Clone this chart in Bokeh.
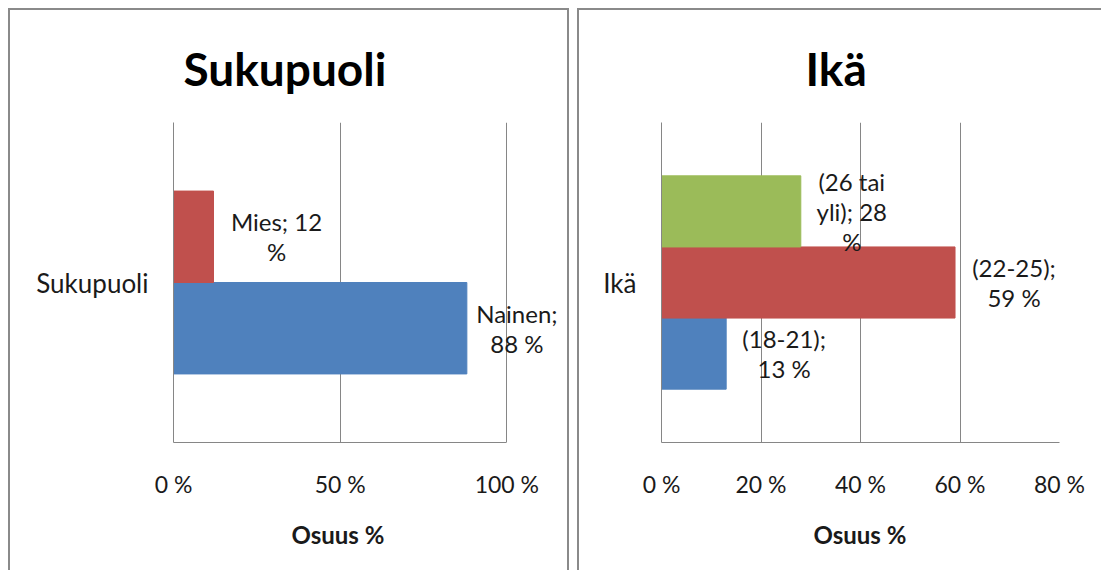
from bokeh.plotting import figure
from bokeh.models import FixedTicker, ColumnDataSource, FactorRange, Title
from bokeh.transform import dodge
from bokeh.layouts import row
from bokeh.embed import file_html
from bokeh.resources import INLINE
from bokeh.core.properties import value

# ---------------- data ----------------
gender_title = "Sukupuoli"
gender_category = ["Sukupuoli"]
gender_series = ["Nainen", "Mies"]
gender_values = [88, 12]
gender_labels = ["Nainen;\n88 %", "Mies; 12\n%"]
gender_ticks = [0, 50, 100]
gender_tick_labels = ["0 %", "50 %", "100 %"]

age_title = "Ikä"
age_category = ["Ikä"]
age_series = ["(18-21)", "(22-25)", "(26 tai yli)"]
age_values = [13, 59, 28]
age_labels = ["(18-21);\n13 %", "(22-25);\n59 %", "(26 tai\nyli); 28\n%"]
age_ticks = [0, 20, 40, 60, 80]
age_tick_labels = ["0 %", "20 %", "40 %", "60 %", "80 %"]

x_title = "Osuus %"

# ---------------- style ----------------
COLORS = ["#4F81BD", "#C0504D", "#9BBB59"]
GRID = "#868686"
BORDER = "2px solid #8a8a8a"
FONT = "Lato"
TEXT = "#1a1a1a"


def make_panel(title, cats, series, values, labels, ticks, tick_labels,
               width, height, mleft, mright, range_stretch, label_offsets,
               title_dx, xtitle_dx, borders):
    p = figure(width=width, height=height, output_backend="svg", toolbar_location=None,
               x_range=(ticks[0], ticks[-1] * range_stretch),
               y_range=FactorRange(factors=cats, range_padding=0),
               min_border_left=mleft, min_border_right=mright,
               min_border_top=112, min_border_bottom=130)
    p.outline_line_color = None
    p.background_fill_color = "white"
    p.border_fill_color = "white"
    n = len(series)
    bw = 1.0 / (n + 1.5)
    for i, (s, v, lab) in enumerate(zip(series, values, labels)):
        off = (i - (n - 1) / 2) * bw
        src = ColumnDataSource(dict(cat=[cats[0]], val=[v], lab=[lab], xo=[label_offsets[i]]))
        p.hbar(y=dodge("cat", off, range=p.y_range), right="val", left=0, height=bw,
               source=src, fill_color=COLORS[i], line_color=COLORS[i], line_width=1)
        p.text(x="val", y=dodge("cat", off, range=p.y_range), text="lab", source=src,
               x_offset="xo", text_align="center", text_baseline="middle",
               text_font=value(FONT), text_font_size="24px", text_color=TEXT,
               text_line_height=1.03)

    p.xaxis.ticker = FixedTicker(ticks=ticks)
    p.xaxis.bounds = (ticks[0], ticks[-1])
    p.xaxis.major_label_overrides = {t: l for t, l in zip(ticks, tick_labels)}
    p.xaxis.major_label_text_font = FONT
    p.xaxis.major_label_text_font_size = "23px"
    p.xaxis.major_label_text_color = TEXT
    p.xaxis.major_label_standoff = 21
    p.xaxis.axis_line_color = GRID
    p.xaxis.major_tick_line_color = None
    p.xaxis.minor_tick_line_color = None

    p.add_layout(Title(text=x_title, align="left", offset=xtitle_dx, text_font=FONT,
                       text_font_style="bold", text_font_size="24px", text_color=TEXT,
                       standoff=35), "below")

    p.yaxis.major_label_text_font = FONT
    p.yaxis.major_label_text_font_size = "26px"
    p.yaxis.major_label_text_color = TEXT
    p.yaxis.major_label_standoff = 19
    p.yaxis.axis_line_color = GRID
    p.yaxis.major_tick_line_color = None
    p.yaxis.minor_tick_line_color = None

    p.xgrid.ticker = FixedTicker(ticks=ticks)
    p.xgrid.grid_line_color = GRID
    p.ygrid.grid_line_color = None

    p.title.text = title
    p.title.align = "left"
    p.title.offset = title_dx
    p.title.text_font = FONT
    p.title.text_font_style = "bold"
    p.title.text_font_size = "46px"
    p.title.text_color = "black"
    p.title.standoff = 53
    p.styles = {b: BORDER for b in borders}
    return p


left = make_panel(gender_title, gender_category, gender_series, gender_values, gender_labels,
                  gender_ticks, gender_tick_labels, width=561, height=562, mleft=163, mright=1,
                  range_stretch=393 / 330, label_offsets=[50, 63], title_dx=10,
                  xtitle_dx=118, borders=["border-left", "border-top", "border-right"])
right = make_panel(age_title, age_category, age_series, age_values, age_labels,
                   age_ticks, age_tick_labels, width=524, height=562, mleft=82, mright=44,
                   range_stretch=1.0, label_offsets=[58, 59, 51], title_dx=144,
                   xtitle_dx=152, borders=["border-left", "border-top"])

layout = row(left, right, spacing=8)
layout.margin = (8, 0, 0, 8)
open("out.html", "w").write(file_html(layout, INLINE))
